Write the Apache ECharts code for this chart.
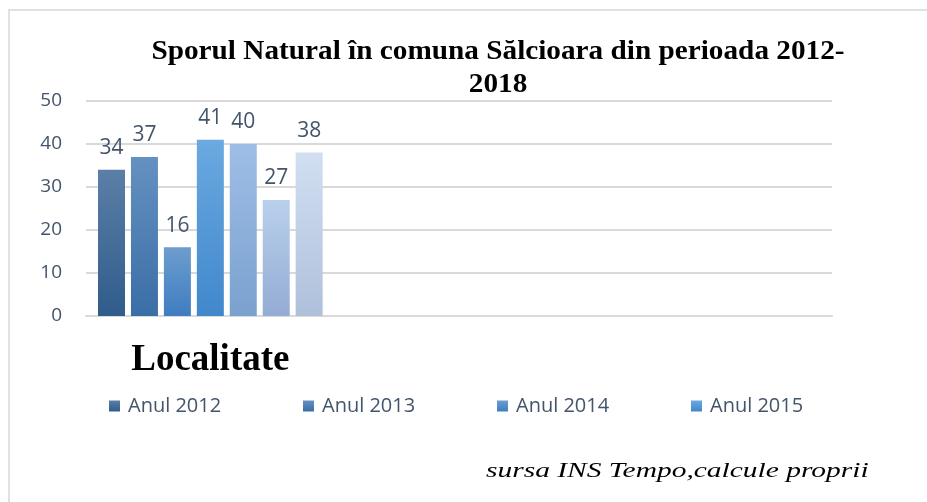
<!DOCTYPE html>
<html>
<head>
<meta charset="utf-8">
<script src="https://cdn.jsdelivr.net/npm/echarts@6/dist/echarts.min.js"></script>
<style>
  html, body { margin: 0; padding: 0; background: #fff; }
  #chart { width: 927px; height: 502px; }
</style>
</head>
<body>
<div id="chart"></div>
<script>
var chartDom = document.getElementById('chart');
var myChart = echarts.init(chartDom);
var option;

// date din grafic
let categories = ['Localitate', '', ''];
let seriesNames = ['Anul 2012', 'Anul 2013', 'Anul 2014', 'Anul 2015', 'Anul 2016', 'Anul 2017', 'Anul 2018'];
let values = [34, 37, 16, 41, 40, 27, 38];
let legendShown = ['Anul 2012', 'Anul 2013', 'Anul 2014', 'Anul 2015'];
let yTicks = [0, 10, 20, 30, 40, 50];

// culori gradient: [sus, jos]
let colors = [
    ['#5b7fa7', '#2f5c8b'],
    ['#6591c1', '#3a6ea6'],
    ['#6e9dcf', '#3e7dc0'],
    ['#6ba9e1', '#4088cc'],
    ['#9ebee6', '#7ba1cf'],
    ['#b9d0ec', '#94acd4'],
    ['#d1dff1', '#afc0db']
];

var labelColor = '#44546a';
var sansFont = '"Open Sans", Lato, sans-serif';
var serifFont = '"Liberation Serif", "DejaVu Serif", serif';

var series = seriesNames.map(function (name, i) {
    return {
        name: name,
        type: 'bar',
        barWidth: 27,
        barGap: '22%',
        itemStyle: {
            color: new echarts.graphic.LinearGradient(0, 0, 0, 1, [
                { offset: 0, color: colors[i][0] },
                { offset: 1, color: colors[i][1] }
            ])
        },
        label: {
            show: true,
            position: 'top',
            distance: 11,
            color: labelColor,
            fontFamily: sansFont,
            fontSize: 21
        },
        data: [values[i], null, null]
    };
});

var legends = legendShown.map(function (name, i) {
    return {
        data: [name],
        left: 104 + i * 194,
        top: 391,
        itemWidth: 11,
        itemHeight: 11,
        itemGap: 0,
        icon: 'rect',
        textStyle: {
            color: labelColor,
            fontFamily: sansFont,
            fontSize: 20,
            padding: [0, 0, 0, 3]
        }
    };
});

option = {
    animation: false,
    backgroundColor: '#fff',
    legend: legends,
    grid: {
        left: 86,
        right: 95,
        top: 101,
        bottom: 186
    },
    xAxis: {
        type: 'category',
        data: categories,
        axisLine: { lineStyle: { color: '#d9d9d9', width: 2 } },
        axisTick: { show: false },
        axisLabel: {
            margin: 26,
            color: '#000',
            fontFamily: serifFont,
            fontWeight: 'bold',
            fontSize: 37
        }
    },
    yAxis: {
        type: 'value',
        min: yTicks[0],
        max: yTicks[yTicks.length - 1],
        interval: 10,
        axisLine: { show: false },
        axisTick: { show: false },
        axisLabel: {
            margin: 24,
            color: labelColor,
            fontFamily: sansFont,
            fontSize: 19
        },
        splitLine: { lineStyle: { color: '#d9d9d9', width: 2 } }
    },
    graphic: [
        {
            type: 'rect',
            shape: { x: 9, y: 10, width: 1000, height: 600 },
            style: { fill: 'none', stroke: '#dde1e8', lineWidth: 2 },
            silent: true
        },
        // titlul este putin intins pe orizontala, ca in original
        {
            type: 'text',
            x: 498,
            y: 52,
            scaleX: 1.17,
            scaleY: 1.06,
            style: {
                text: 'Sporul Natural în comuna Sălcioara din perioada 2012-',
                fontFamily: serifFont,
                fontWeight: 'bold',
                fontSize: 25,
                fill: '#000',
                align: 'center',
                verticalAlign: 'middle'
            }
        },
        {
            type: 'text',
            x: 498,
            y: 85,
            scaleX: 1.17,
            scaleY: 1.06,
            style: {
                text: '2018',
                fontFamily: serifFont,
                fontWeight: 'bold',
                fontSize: 25,
                fill: '#000',
                align: 'center',
                verticalAlign: 'middle'
            }
        },
        {
            type: 'text',
            x: 486,
            y: 471,
            scaleX: 1.34,
            style: {
                text: 'sursa INS Tempo,calcule proprii',
                fontFamily: serifFont,
                fontStyle: 'italic',
                fontSize: 22,
                fill: '#000',
                align: 'left',
                verticalAlign: 'middle'
            }
        }
    ],
    series: series
};

option && myChart.setOption(option);
</script>
</body>
</html>
